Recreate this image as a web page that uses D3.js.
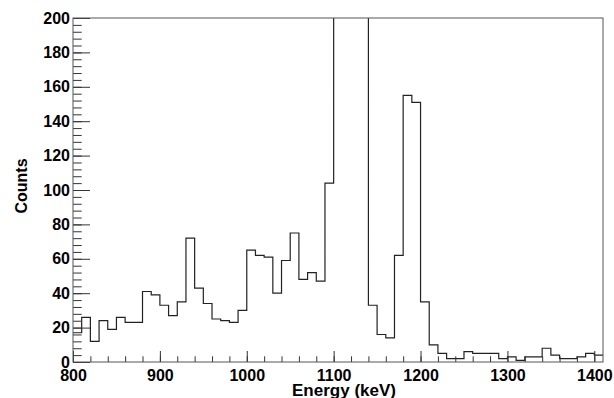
<!DOCTYPE html>
<html>
<head>
<meta charset="utf-8">
<script src="https://cdn.jsdelivr.net/npm/d3@7"></script>
<style>
  body { margin: 0; background: #fff; }
  svg text { font-family: "Liberation Sans", Arial, sans-serif; font-weight: bold; fill: #000; }
</style>
</head>
<body>
<div class="chart-container"></div>
<script>
// histogram bins, 10 keV wide, from 800 to 1410 keV
const binWidth = 10;
const binLow = d3.range(800, 1410, binWidth);
// counts per bin (bins 1100-1140 are off scale, guessed)
const counts = [
  17, 26, 12, 24, 19, 26, 23, 23, 41, 39,
  33, 27, 35, 72, 43, 34, 25, 24, 23, 30,
  65, 62, 61, 40, 59, 75, 48, 52, 47, 104,
  260, 900, 700, 280, 33, 16, 14, 62, 155, 151,
  35, 10, 5, 2, 2, 6, 5, 5, 5, 2,
  3, 1, 3, 3, 8, 4, 2, 2, 3, 5,
  4
];
const xMajor = [800, 900, 1000, 1100, 1200, 1300, 1400];
const yMajor = [0, 20, 40, 60, 80, 100, 120, 140, 160, 180, 200];

const W = 614, H = 398;
const margin = {top: 18, right: 11, bottom: 36, left: 73};

const svg = d3.select(".chart-container")
  .append("svg")
  .attr("width", W)
  .attr("height", H);

const x = d3.scaleLinear().domain([800, 1410]).range([margin.left, W - margin.right]);
const y = d3.scaleLinear().domain([0, 200]).range([H - margin.bottom, margin.top]);

// clip so the big peak runs along the top of the frame
svg.append("clipPath").attr("id", "plotClip")
  .append("rect")
  .attr("x", x(800)).attr("y", y(200))
  .attr("width", x(1410) - x(800)).attr("height", y(0) - y(200));

// step line
let pts = [];
counts.forEach((c, i) => {
  pts.push([x(binLow[i]), y(c)]);
  pts.push([x(binLow[i] + binWidth), y(c)]);
});
svg.append("path")
  .attr("clip-path", "url(#plotClip)")
  .attr("d", d3.line()(pts))
  .attr("fill", "none")
  .attr("stroke", "#222")
  .attr("stroke-width", 1.2);

// minor ticks
const xMinor = d3.range(800, 1410, 20);
const yMinor = d3.range(0, 201, 4);

svg.append("g")
  .attr("transform", "translate(0," + y(0) + ")")
  .call(d3.axisBottom(x).tickValues(xMinor).tickSize(-5.7).tickFormat(""))
  .call(g => g.select(".domain").remove());

svg.append("g")
  .attr("transform", "translate(" + x(800) + ",0)")
  .call(d3.axisLeft(y).tickValues(yMinor).tickSize(-8.7).tickFormat(""))
  .call(g => g.select(".domain").remove());

// major ticks + labels
const xAxis = svg.append("g")
  .attr("transform", "translate(0," + y(0) + ")")
  .call(d3.axisBottom(x).tickValues(xMajor).tickSize(-11).tickPadding(8).tickFormat(d3.format("d")));
xAxis.select(".domain").remove();
xAxis.selectAll("text").attr("font-size", 16).style("font-family", null);

const yAxis = svg.append("g")
  .attr("transform", "translate(" + x(800) + ",0)")
  .call(d3.axisLeft(y).tickValues(yMajor).tickSize(-17).tickPadding(3).tickFormat(d3.format("d")));
yAxis.select(".domain").remove();
yAxis.selectAll("text").attr("font-size", 16).style("font-family", null);

svg.selectAll(".tick line").attr("stroke", "#333");

// frame
svg.append("rect")
  .attr("x", x(800)).attr("y", y(200))
  .attr("width", x(1410) - x(800)).attr("height", y(0) - y(200))
  .attr("fill", "none")
  .attr("stroke", "#555")
  .attr("stroke-width", 1);

// axis titles
svg.append("text")
  .attr("x", 344).attr("y", 396)
  .attr("text-anchor", "middle")
  .attr("font-size", 17)
  .text("Energy (keV)");

svg.append("text")
  .attr("transform", "translate(27,186) rotate(-90)")
  .attr("text-anchor", "middle")
  .attr("font-size", 16)
  .text("Counts");
</script>
</body>
</html>
